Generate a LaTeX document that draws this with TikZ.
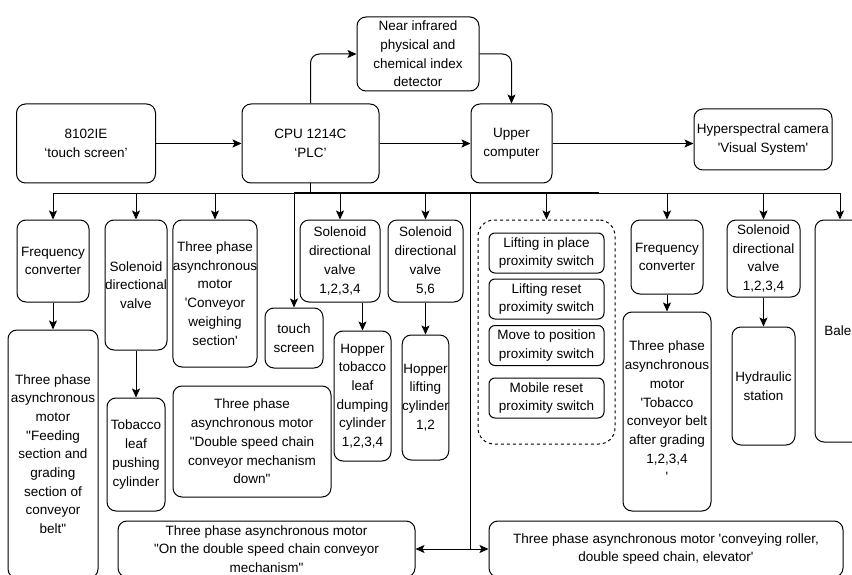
\documentclass[tikz,border=0pt]{standalone}
\usepackage{fontspec}
\setmainfont{Liberation Sans}
\usetikzlibrary{arrows.meta, positioning, calc}
\newcommand{\sqt}{\textquotesingle}
\newcommand{\dqt}{\textquotedbl}

\begin{document}
\begin{tikzpicture}[x=1pt, y=-1pt, >={Stealth[length=9pt, width=8pt, inset=2pt]},
      line width=1pt,
      every node/.style={font=\fontsize{13.5}{18.7}\selectfont},
      box/.style={draw, rounded corners=9pt, align=center, inner sep=0pt},
      sz/.style 2 args={minimum width=#1pt, minimum height=#2pt}]
    \useasboundingbox (0,0) rectangle (852,575);
    \clip (0,0) rectangle (852,575);
    % top row
    \node[box, sz={139}{79}] (hmi) at (86,143.5) {8102IE\\‘touch screen’};
    \node[box, sz={137}{79}] (cpu) at (310.5,143.5) {CPU 1214C\\‘PLC’};
    \node[box, sz={122}{74}] (nir) at (418,54)
      {Near infrared\\physical and\\chemical index\\detector};
    \node[box, sz={81}{79}] (upper) at (511.5,143.5) {Upper\\computer};
    \node[box, sz={138}{61}] (hyper) at (763,139.5)
      {Hyperspectral camera\\\sqt Visual System\sqt};
    \draw[->] (hmi) -- (cpu);
    \draw[->] (cpu) -- (upper);
    \draw[->] (upper.east) -- (upper.east -| hyper.west);
    \draw[->, rounded corners=9pt] (cpu.north) |- (nir.west);
    \draw[->, rounded corners=9pt] (nir.east) -| (upper.north);
    % left branch
    \node[box, sz={72}{82}] (freqa) at (53,261) {Frequency\\converter};
    \node[box, sz={90}{248}] (feed) at (53,454)
      {Three phase\\asynchronous\\motor\\\dqt Feeding\\section and\\grading\\section of\\conveyor\\belt\dqt};
    \node[box, sz={62}{130}] (sola) at (136,285) {Solenoid\\directional\\valve};
    \node[box, sz={58}{113}] (push) at (136,454.5) {Tobacco\\leaf\\pushing\\cylinder};
    \node[box, sz={84}{147}] (weigh) at (215,293.5)
      {Three phase\\asynchronous\\motor\\\sqt Conveyor\\weighing\\section\sqt};
    \node[box, sz={158}{111}] (down) at (252,441.5)
      {Three phase\\asynchronous motor\\\dqt Double speed chain\\conveyor mechanism\\down\dqt};
    \node[box, sz={58}{60}] (touch) at (294,338) {touch\\screen};
    \node[box, sz={80}{82}] (solb) at (340,261) {Solenoid\\directional\\valve\\1,2,3,4};
    \node[box, sz={57}{130}] (dump) at (362.5,396)
      {Hopper\\tobacco\\leaf\\dumping\\cylinder\\1,2,3,4};
    \node[box, sz={75}{82}] (solc) at (425.5,261) {Solenoid\\directional\\valve\\5,6};
    \node[box, sz={45}{125}] (lift) at (425.5,397.5) {Hopper\\lifting\\cylinder\\1,2};
    % right branch
    \node[draw, dashed, rounded corners=16pt, sz={137}{224}] (group) at (546.5,332) {};
    \foreach \k/\y/\txt in {1/253/Lifting in place, 2/299/Lifting reset,
        3/345.5/Move to position, 4/398/Mobile reset}{
      \node[box, rounded corners=6pt, sz={115}{40}] (sw\k) at (546.5,\y)
        {\txt\\proximity switch};
    }
    \node[box, sz={72}{74}] (freqb) at (667,257) {Frequency\\converter};
    \node[box, sz={88}{199}] (belt) at (667,411.5)
      {Three phase\\asynchronous\\motor\\\sqt Tobacco\\conveyor belt\\after grading\\1,2,3,4\\\sqt};
    \node[box, sz={73}{77}] (sold) at (763.5,258.5) {Solenoid\\directional\\valve\\1,2,3,4};
    \node[box, sz={63}{118}] (hydr) at (763.5,386) {Hydraulic\\station};
    \node[box, sz={50}{222}] (baler) at (840,331) {Baler};
    % bottom row
    \node[box, sz={297}{56}] (chainup) at (266.5,549)
      {Three phase asynchronous motor\\\dqt On the double speed chain conveyor\\mechanism\dqt};
    \node[box, sz={354}{56}] (roller) at (666,549)
      {Three phase asynchronous motor \sqt conveying roller,\\double speed chain, elevator\sqt};
    % bus from the PLC
    \draw (cpu.south) -- ++(0,10) coordinate (bj);
    \draw (freqa.north |- bj) -- (baler.north |- bj);
    \draw[line width=2pt] (touch.north |- bj) -- ++(305,0);
    \foreach \n in {freqa,sola,weigh,touch,solb,solc,group,freqb,sold,baler}
      \draw[->] (\n.north |- bj) -- (\n.north);
    \draw[->] (freqa) -- (feed);
    \draw[->] (sola) -- (push);
    \draw[->] (dump.north |- solb.south) -- (dump.north);
    \draw[->] (solc) -- (lift);
    \draw[->] (freqb) -- (belt);
    \draw[->] (sold) -- (hydr);
    \coordinate (tap) at ($(solc.east)!0.5!(group.west)$);
    \draw (tap |- bj) -- (tap |- chainup.east) coordinate (tb);
    \draw[->] (tb) -- (chainup.east);
    \draw[->] (tb) -- (roller.west);
  \end{tikzpicture}
\end{document}
